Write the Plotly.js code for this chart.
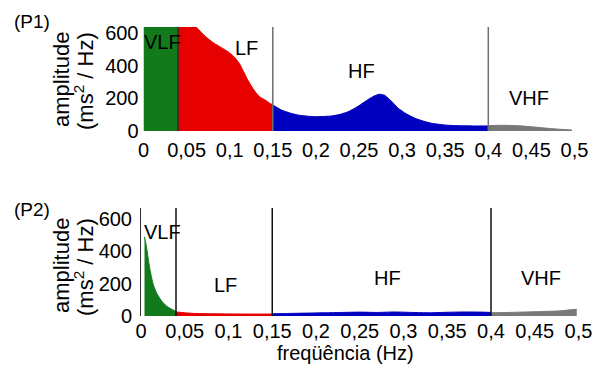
<!DOCTYPE html>
<html>
<head>
<meta charset="utf-8">
<script src="https://cdn.plot.ly/plotly-3.0.1.min.js"></script>
<style>html,body{margin:0;padding:0;background:#fff;}#chart{width:600px;height:367px;}</style>
</head>
<body>
<div id="chart"></div>
<script>
// ---- data ----
const xTickVals = [0, 0.05, 0.1, 0.15, 0.2, 0.25, 0.3, 0.35, 0.4, 0.45, 0.5];
const xTickText = ["0", "0,05", "0,1", "0,15", "0,2", "0,25", "0,3", "0,35", "0,4", "0,45", "0,5"];
const yTickVals = [0, 200, 400, 600];
const bandNames = ["VLF", "LF", "HF", "VHF"];
const bandBounds = [0.04, 0.15, 0.4];

// P1 spectrum (clipped at top of plot)
const p1VlfX = [0, 0.04];
const p1VlfY = [640, 640];
const p1LfX = [0.04, 0.05, 0.06, 0.068, 0.075, 0.082, 0.09, 0.098, 0.105, 0.111, 0.116, 0.121, 0.126, 0.131, 0.136, 0.141, 0.146, 0.15];
const p1LfY = [640, 640, 640, 598, 565, 537, 512, 486, 455, 415, 365, 312, 268, 231, 205, 190, 172, 159];
const p1HfX = [0.15, 0.16, 0.17, 0.179, 0.19, 0.1985, 0.208, 0.218, 0.228, 0.2374, 0.247, 0.257, 0.266, 0.2735, 0.28, 0.284, 0.29, 0.2955, 0.305, 0.315, 0.325, 0.3345, 0.344, 0.354, 0.37, 0.385, 0.4];
const p1HfY = [159, 129, 110, 98, 91, 88, 89, 92, 102, 118, 145, 180, 210, 225, 218, 200, 170, 139, 105, 78, 60, 47, 40, 35, 32, 31, 31];
const p1VhfX = [0.4, 0.415, 0.432, 0.45, 0.47, 0.485, 0.497];
const p1VhfY = [33, 35, 33, 26, 16, 10, 6];

// P2 spectrum
const p2VlfX = [0.004, 0.0065, 0.0085, 0.0105, 0.014, 0.018, 0.024, 0.03, 0.035, 0.04];
const p2VlfY = [490, 420, 345, 280, 195, 140, 90, 58, 42, 28];
const p2LfX = [0.04, 0.05, 0.06, 0.08, 0.1, 0.12, 0.15];
const p2LfY = [25, 20, 16, 14, 13, 12, 12];
const p2HfX = [0.15, 0.17, 0.19, 0.21, 0.23, 0.25, 0.27, 0.29, 0.31, 0.33, 0.35, 0.37, 0.39, 0.4];
const p2HfY = [14, 16, 18, 20, 22, 24, 22, 25, 22, 20, 23, 25, 24, 22];
const p2VhfX = [0.4, 0.42, 0.44, 0.46, 0.48, 0.49, 0.498];
const p2VhfY = [20, 22, 25, 28, 32, 38, 42];

// band label positions (data coords)
const p1LabelX = [0.0215, 0.12, 0.253, 0.447];
const p1LabelY = [547, 506, 368, 205];
const p2LabelX = [0.025, 0.096, 0.282, 0.457];
const p2LabelY = [517, 192, 238, 238];

// ---- styling ----
const bandColors = ["#137a1b", "#e60000", "#0000bf", "#787878"];
const FONT = "Arial, 'Liberation Sans', sans-serif";

function band(x, y, c, xa, ya) {
  return {x: x, y: y, type: "scatter", mode: "lines", fill: "tozeroy",
          fillcolor: c, line: {color: c, width: 1, shape: "spline", smoothing: 0.6},
          xaxis: xa, yaxis: ya, hoverinfo: "skip", showlegend: false};
}

const data = [
  band(p1VlfX, p1VlfY, bandColors[0], "x", "y"),
  band(p1LfX, p1LfY, bandColors[1], "x", "y"),
  band(p1HfX, p1HfY, bandColors[2], "x", "y"),
  band(p1VhfX, p1VhfY, bandColors[3], "x", "y"),
  band(p2VlfX, p2VlfY, bandColors[0], "x2", "y2"),
  band(p2LfX, p2LfY, bandColors[1], "x2", "y2"),
  band(p2HfX, p2HfY, bandColors[2], "x2", "y2"),
  band(p2VhfX, p2VhfY, bandColors[3], "x2", "y2")
];

const p1LineColors = ["#2a2a2a", "#6e6e6e", "#6e6e6e"];
const shapes = [];
bandBounds.forEach((b, i) => {
  shapes.push({type: "line", xref: "x", yref: "y domain", x0: b, x1: b, y0: 0, y1: 1,
               line: {color: p1LineColors[i], width: 1.5}, layer: "above"});
  shapes.push({type: "line", xref: "x2", yref: "y2 domain", x0: b, x1: b, y0: 0, y1: 1,
               line: {color: "#111111", width: 1.5}, layer: "above"});
});

const annotations = [];
bandNames.forEach((n, i) => {
  annotations.push({text: n, x: p1LabelX[i], y: p1LabelY[i], xref: "x", yref: "y",
                    xanchor: "center", yanchor: "middle",
                    showarrow: false, font: {family: FONT, size: 20, color: "#000"}});
  annotations.push({text: n, x: p2LabelX[i], y: p2LabelY[i], xref: "x2", yref: "y2",
                    xanchor: "center", yanchor: "middle",
                    showarrow: false, font: {family: FONT, size: 20, color: "#000"}});
});
function paperNote(text, px, py, size, angle) {
  return {text: text, x: px / 600, y: 1 - py / 367, xref: "paper", yref: "paper",
          xanchor: "center", yanchor: "middle", showarrow: false, textangle: angle || 0,
          font: {family: FONT, size: size, color: "#000"}};
}
annotations.push(paperNote("(P1)", 32, 21.5, 19));
annotations.push(paperNote("(P2)", 32, 209.5, 19));
annotations.push(paperNote("amplitude", 61, 80, 22, -90));
annotations.push(paperNote("(ms<sup>2</sup> / Hz)", 84, 81, 22, -90));
annotations.push(paperNote("amplitude", 61, 266, 22, -90));
annotations.push(paperNote("(ms<sup>2</sup> / Hz)", 84, 267, 22, -90));
annotations.push(paperNote("freqüência (Hz)", 345, 353, 20));

const xCommon = {range: [0, 0.5], tickvals: xTickVals, ticktext: xTickText, showgrid: false,
                 zeroline: false, showline: false, ticks: "", ticklabelstandoff: 5,
                 tickfont: {family: FONT, size: 20, color: "#000"}, fixedrange: true};
const yCommon = {tickvals: yTickVals, showgrid: false, zeroline: false, ticks: "",
                 ticklabelstandoff: 4, tickfont: {family: FONT, size: 20, color: "#000"}, fixedrange: true};

const layout = {
  width: 600, height: 367,
  margin: {l: 0, r: 0, t: 0, b: 0},
  paper_bgcolor: "#fff", plot_bgcolor: "#fff",
  showlegend: false,
  xaxis: Object.assign({}, xCommon, {domain: [143.5 / 600, 574.5 / 600], anchor: "y"}),
  yaxis: Object.assign({}, yCommon, {domain: [236 / 367, 340 / 367], range: [0, 637], anchor: "x", showline: false}),
  xaxis2: Object.assign({}, xCommon, {domain: [141 / 600, 578.5 / 600], anchor: "y2", ticklabelstandoff: 1}),
  yaxis2: Object.assign({}, yCommon, {domain: [51 / 367, 159 / 367], range: [0, 668], anchor: "x2",
                                      showline: true, linecolor: "#333", linewidth: 1}),
  shapes: shapes,
  annotations: annotations
};

Plotly.newPlot("chart", data, layout, {staticPlot: true, displayModeBar: false});
</script>
</body>
</html>
